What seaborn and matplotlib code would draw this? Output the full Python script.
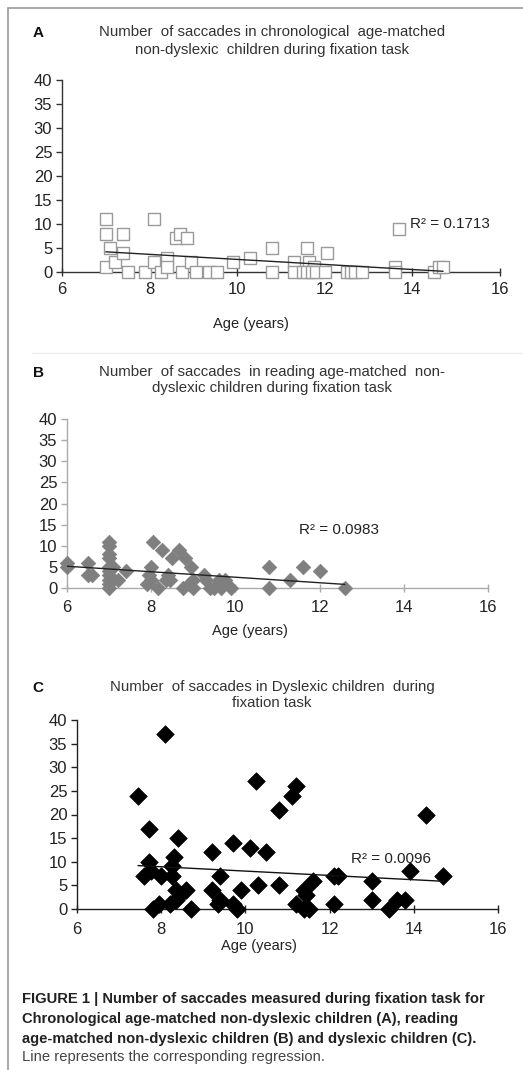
import matplotlib
matplotlib.use("Agg")
import matplotlib.pyplot as plt
import matplotlib.lines as mlines
import seaborn as sns

sns.set_style("white")
plt.rcParams["font.family"] = ["Liberation Sans", "DejaVu Sans"]

W, H = 523, 1070

# ── Data ──────────────────────────────────────────────────
# A: chronological age-matched non-dyslexic children
age_a = [7.0, 7.0, 7.1, 7.0, 7.2, 7.4, 7.4, 7.5, 8.1, 7.9, 8.1, 8.25,
         8.4, 8.4, 8.6, 8.7, 8.85, 8.75, 8.95, 9.05, 9.35, 9.55, 9.9, 10.3,
         10.8, 10.8, 11.3, 11.3, 11.6, 11.65, 11.75, 11.5, 11.6, 11.7, 11.8,
         12.0, 12.05, 12.5, 12.6, 12.7, 12.85, 13.6, 13.6, 13.7, 14.5, 14.6, 14.7]
sacc_a = [11, 8, 5, 1, 2, 8, 4, 0, 11, 0, 2, 0,
          3, 1, 7, 8, 7, 0, 2, 0, 0, 0, 2, 3,
          5, 0, 2, 0, 5, 2, 1, 0, 0, 0, 0,
          0, 4, 0, 0, 0, 0, 1, 0, 9, 0, 1, 1]

# B: reading age-matched non-dyslexic children
age_b = [6.0, 6.0, 6.5, 6.5, 6.6, 7.0, 7.0, 7.0, 7.0, 7.0, 7.0, 7.0, 7.0, 7.0, 7.0,
         7.1, 7.2, 7.4, 7.9, 7.95, 8.0, 8.0, 8.05, 8.15, 8.25, 8.35, 8.4, 8.45, 8.5,
         8.65, 8.8, 8.75, 8.95, 8.9, 9.0, 9.0, 9.25, 9.3, 9.4, 9.5, 9.6, 9.65, 9.75,
         9.9, 10.8, 10.8, 11.3, 11.6, 12.0, 12.6]
sacc_b = [6, 5, 6, 3, 3, 11, 10, 8, 7, 5, 4, 3, 2, 1, 0,
          5, 2, 4, 1, 3, 5, 2, 11, 0, 9, 2, 3, 2, 7,
          9, 7, 0, 5, 1, 2, 0, 3, 2, 0, 0, 2, 0, 2,
          0, 5, 0, 2, 5, 4, 0]

# C: dyslexic children
age_c = [8.1, 7.45, 7.7, 8.4, 7.7, 7.6, 7.75, 8.0, 8.3, 8.25, 8.25, 7.8, 7.95,
         8.2, 8.35, 8.35, 8.6, 8.45, 8.7, 9.2, 9.2, 9.4, 9.35, 9.4, 9.7, 9.9,
         9.7, 9.8, 10.1, 10.25, 10.3, 10.5, 10.8, 10.8, 11.1, 11.2, 11.2, 11.4,
         11.45, 11.6, 11.4, 11.5, 12.1, 12.1, 12.2, 13.0, 13.0, 13.4, 13.6, 13.8,
         13.9, 14.3, 14.7]
sacc_c = [37, 24, 17, 15, 10, 7, 8, 7, 11, 9, 7, 0, 1,
          1, 4, 2, 4, 3, 0, 12, 4, 7, 1, 2, 14, 4,
          1, 0, 13, 27, 5, 12, 21, 5, 24, 26, 1, 4,
          3, 6, 0, 0, 1, 7, 7, 6, 2, 0, 2, 2,
          8, 20, 7]

titles = [
    "Number  of saccades in chronological  age-matched\nnon-dyslexic  children during fixation task",
    "Number  of saccades  in reading age-matched  non-\ndyslexic children during fixation task",
    "Number  of saccades in Dyslexic children  during\nfixation task",
]
r2_labels = ["R² = 0.1713", "R² = 0.0983", "R² = 0.0096"]
x_ticks = [6, 8, 10, 12, 14, 16]
y_ticks = [0, 5, 10, 15, 20, 25, 30, 35, 40]

fig = plt.figure(figsize=(W / 100, H / 100), dpi=100)


def px_axes(left, right, top, bottom):
    return fig.add_axes([left / W, 1 - bottom / H, (right - left) / W, (bottom - top) / H])


def style_axes(ax, color, pad_x):
    ax.set_xlim(6, 16)
    ax.set_ylim(0, 40)
    ax.set_xticks(x_ticks)
    ax.set_yticks(y_ticks)
    for s in ["top", "right"]:
        ax.spines[s].set_visible(False)
    for s in ["left", "bottom"]:
        ax.spines[s].set_color(color)
        ax.spines[s].set_linewidth(1.0)
    ax.tick_params(axis="y", direction="out", length=4, width=1, color=color,
                   labelsize=12, labelcolor="#222222", pad=3, left=True)
    ax.tick_params(axis="x", direction="inout", length=6, width=1, color=color,
                   labelsize=12, labelcolor="#222222", pad=pad_x, bottom=True)
    ax.set_xlabel("")
    ax.set_ylabel("")
    ax.patch.set_alpha(0)


# ── Panel A ───────────────────────────────────────────────
axA = px_axes(62, 500, 80, 272)
sns.scatterplot(x=age_a, y=sacc_a, ax=axA, marker="s", s=72, facecolor="white",
                edgecolor="#9a9a9a", linewidth=1.0, clip_on=False, zorder=3)
sns.regplot(x=age_a, y=sacc_a, ax=axA, scatter=False, ci=None,
            line_kws=dict(color="#222222", lw=1.0, zorder=4))
style_axes(axA, "#333333", 4)
axA.text(13.95, 10, r2_labels[0], fontsize=11, color="#222222", va="center")

# ── Panel B ───────────────────────────────────────────────
axB = px_axes(67, 488, 419, 588)
sns.scatterplot(x=age_b, y=sacc_b, ax=axB, marker="D", s=55, color="#7f7f7f",
                edgecolor="#7f7f7f", linewidth=0.5, clip_on=False, zorder=3)
sns.regplot(x=age_b, y=sacc_b, ax=axB, scatter=False, ci=None,
            line_kws=dict(color="#222222", lw=1.0, zorder=4))
style_axes(axB, "#aaaaaa", 6)
axB.text(11.5, 13.7, r2_labels[1], fontsize=11, color="#222222", va="center")

# ── Panel C ───────────────────────────────────────────────
axC = px_axes(77, 498, 720, 909)
sns.scatterplot(x=age_c, y=sacc_c, ax=axC, marker="D", s=80, color="black",
                edgecolor="black", linewidth=0.5, clip_on=False, zorder=3)
sns.regplot(x=age_c, y=sacc_c, ax=axC, scatter=False, ci=None,
            line_kws=dict(color="#111111", lw=1.0, zorder=4))
style_axes(axC, "#222222", 6)
axC.text(12.5, 10.5, r2_labels[2], fontsize=11, color="#222222", va="center")

# ── Titles, panel letters, axis labels ───────────────────
for letter, ty, title, ls, ly, cx in [("A", 33, titles[0], 1.35, 324, 251),
                                      ("B", 373, titles[1], 1.15, 631, 250),
                                      ("C", 688, titles[2], 1.15, 946, 259)]:
    fig.text(38 / W, 1 - ty / H, letter, fontsize=11, fontweight="bold",
             ha="center", va="center", color="#111111")
    fig.text(272 / W, 1 - (ty - 8) / H, title, fontsize=10.8, ha="center", va="top",
             color="#333333", linespacing=ls)
    fig.text(cx / W, 1 - ly / H, "Age (years)", fontsize=10.5, ha="center",
             va="center", color="#222222")

# ── Caption ───────────────────────────────────────────────
caption_bold = [
    "FIGURE 1 | Number of saccades measured during fixation task for",
    "Chronological age-matched non-dyslexic children (A), reading",
    "age-matched non-dyslexic children (B) and dyslexic children (C).",
]
for i, line in enumerate(caption_bold):
    fig.text(22 / W, 1 - (999 + 20 * i) / H, line, fontsize=10.6, fontweight="bold",
             ha="left", va="center", color="#222222")
fig.text(22 / W, 1 - 1057 / H, "Line represents the corresponding regression.",
         fontsize=10.6, ha="left", va="center", color="#444444")

# frame and separator
fig.add_artist(mlines.Line2D([8 / W, 8 / W], [0, 1 - 8 / H], color="#9a9a9a", lw=1.2))
fig.add_artist(mlines.Line2D([8 / W, 1], [1 - 8 / H, 1 - 8 / H], color="#9a9a9a", lw=1.2))
fig.add_artist(mlines.Line2D([32 / W, 1], [1 - 353 / H, 1 - 353 / H], color="#eeeeee", lw=1))

fig.savefig("out.png", dpi=100)
plt.close(fig)
